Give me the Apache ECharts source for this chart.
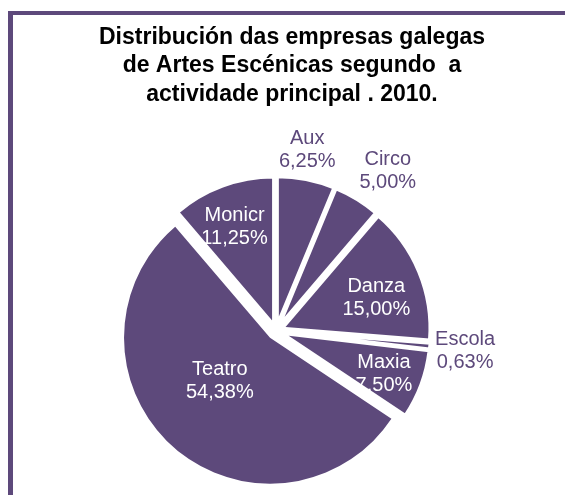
<!DOCTYPE html>
<html>
<head>
<meta charset="utf-8">
<script src="https://cdn.jsdelivr.net/npm/echarts@6/dist/echarts.min.js"></script>
<style>
  html, body { margin: 0; padding: 0; background: #fff; }
  #main { width: 565px; height: 495px; }
</style>
</head>
<body>
<div id="main"></div>
<script>
// datos
var categorias = ['Aux', 'Circo', 'Danza', 'Escola', 'Maxia', 'Teatro', 'Monicr'];
var empresas = [10, 8, 24, 1, 12, 87, 18];
var etiquetasFora = ['Aux', 'Circo', 'Escola'];
var etiquetasDentro = ['Danza', 'Maxia', 'Monicr'];
var etiquetaCentro = ['Teatro'];

var morado = '#5D497B';
var centro = [276, 331];
var raio = 146;
var total = empresas.reduce(function (a, b) { return a + b; }, 0);

// pequenos desprazamentos das etiquetas [dx, dy]
var axustes = {
    Aux: [-6, 6],
    Circo: [12, 3],
    Danza: [-5, 11],
    Escola: [-1, 1],
    Maxia: [1, 4],
    Teatro: [-5, -8],
    Monicr: [-2, 3]
};

function porcentaxe(v) {
    return (v * 100 / total).toFixed(2).replace('.', ',') + '%';
}

// serie das porcións (visible só onde "visibles" o indica)
function porcions(visibles, offset, borde) {
    return {
        type: 'pie',
        center: centro,
        radius: raio + borde / 2,
        startAngle: 90,
        silent: true,
        selectedMode: 'multiple',
        selectedOffset: offset,
        label: { show: false },
        labelLine: { show: false },
        emphasis: { disabled: true },
        data: categorias.map(function (c, i) {
            var ver = visibles.indexOf(c) >= 0;
            return {
                name: c,
                value: empresas[i],
                selected: true,
                itemStyle: ver
                    ? { color: morado, borderColor: '#fff', borderWidth: borde, borderJoin: 'round' }
                    : { color: 'transparent', borderWidth: 0 }
            };
        })
    };
}

// capa só de etiquetas: o texto 'inside' queda a radio/2
function capaEtiquetas(nomes, radioCapa, cor) {
    return {
        type: 'pie',
        center: centro,
        radius: radioCapa,
        startAngle: 90,
        silent: true,
        avoidLabelOverlap: false,
        z: 5,
        itemStyle: { color: 'transparent' },
        labelLine: { show: false },
        emphasis: { disabled: true },
        label: {
            position: 'inside',
            color: cor,
            fontFamily: 'Liberation Sans',
            fontSize: 20,
            lineHeight: 23,
            formatter: function (p) {
                return p.name + '\n' + porcentaxe(p.value);
            }
        },
        labelLayout: function (p) {
            var a = axustes[categorias[p.dataIndex]];
            return { dx: a[0], dy: a[1] };
        },
        data: categorias.map(function (c, i) {
            return {
                name: c,
                value: empresas[i],
                label: { show: nomes.indexOf(c) >= 0 }
            };
        })
    };
}

var myChart = echarts.init(document.getElementById('main'));

var option = {
    animation: false,
    title: {
        text: 'Distribución das empresas galegas\nde Artes Escénicas segundo  a\nactividade principal . 2010.',
        left: 287,
        top: 18,
        textAlign: 'center',
        textStyle: {
            fontFamily: 'Liberation Sans',
            fontWeight: 'bold',
            fontSize: 23,
            lineHeight: 28.5,
            color: '#000'
        }
    },
    graphic: [
        { type: 'rect', shape: { x: 8, y: 11, width: 557, height: 4 }, style: { fill: morado } },
        { type: 'rect', shape: { x: 8, y: 11, width: 5, height: 484 }, style: { fill: morado } }
    ],
    series: [
        porcions(['Aux', 'Circo', 'Danza', 'Escola', 'Maxia', 'Monicr'], 7, 3),
        porcions(['Teatro'], 9, 0),
        capaEtiquetas(etiquetaCentro, 148, '#fff'),
        capaEtiquetas(etiquetasDentro, 222, '#fff'),
        capaEtiquetas(etiquetasFora, 376, morado)
    ]
};
myChart.setOption(option);
</script>
</body>
</html>
